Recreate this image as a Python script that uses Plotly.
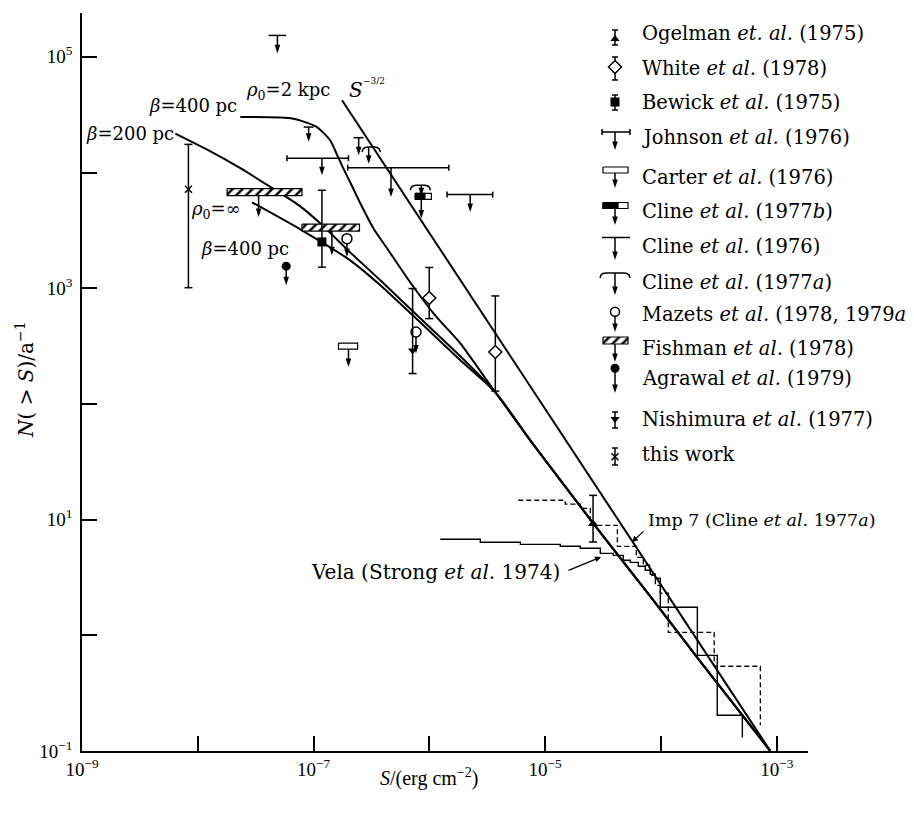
import plotly.graph_objects as go

# ---------------- data (S in erg cm^-2, N(>S) per year) ----------------
# model curves
kpc2_S = [2.33e-8, 6.68e-8, 1.07e-7, 1.39e-7, 1.60e-7, 1.80e-7, 2.07e-7, 2.53e-7, 3.28e-7, 4.42e-7,
          6.84e-7, 1.12e-6, 1.85e-6, 3.36e-6, 7.43e-6, 2.60e-5, 8.09e-5, 2.18e-4, 8.79e-4]
kpc2_N = [3.02e4, 2.92e4, 2.47e4, 1.90e4, 1.41e4, 1.09e4, 8.23e3, 5.42e3, 3.30e3, 2.13e3,
          1.12e3, 583, 334, 145, 48.4, 9.29, 2.17, 0.596, 0.1]
pc200_S = [6.4e-9, 1.23e-8, 2.33e-8, 4.23e-8, 7.67e-8, 1.14e-7, 2.07e-7, 3.77e-7, 8.33e-7, 1.85e-6,
           3.71e-6, 7.43e-6, 2.60e-5, 8.09e-5, 2.18e-4, 8.79e-4]
pc200_N = [2.17e4, 1.56e4, 1.09e4, 7.50e3, 5.10e3, 3.64e3, 2.04e3, 1.17e3, 549, 258,
           126, 48.4, 9.29, 2.17, 0.596, 0.1]
inf_S = [2.94e-8, 7.67e-8, 2.07e-7, 3.77e-7, 8.33e-7, 1.85e-6, 3.71e-6, 7.43e-6, 2.60e-5, 8.09e-5, 2.18e-4, 8.79e-4]
inf_N = [5.52e3, 3.23e3, 1.74e3, 1.06e3, 507, 238, 126, 48.4, 9.29, 2.17, 0.596, 0.1]
euclid_S = [1.76e-7, 8.79e-4]
euclid_N = [4.21e4, 0.1]

# integral distributions (step starts)
vela_S = [1.24e-6, 2.75e-6, 6.10e-6, 1.35e-5, 2.01e-5, 2.99e-5, 3.87e-5, 4.72e-5, 5.43e-5, 6.37e-5,
          7.31e-5, 8.09e-5, 8.93e-5, 9.86e-5, 2.06e-4, 3.06e-4, 5.04e-4]
vela_N = [6.76, 6.37, 6.11, 5.88, 5.65, 5.11, 4.91, 4.45, 4.27, 3.95, 3.65, 3.37, 3.11, 1.75, 0.671, 0.204, 0.131]
imp7_S = [5.86e-6, 1.49e-5, 2.01e-5, 2.45e-5, 4.20e-5, 6.12e-5, 7.03e-5, 8.09e-5, 8.93e-5, 9.86e-5,
          1.156e-4, 2.88e-4, 7.21e-4]
imp7_N = [14.7, 13.6, 12.5, 8.93, 5.88, 4.72, 4.03, 3.30, 2.70, 2.31, 1.06, 0.540, 0.167]

# measurements with error bars
ogelman_S, ogelman_N, ogelman_lo, ogelman_hi = [2.59e-5], [9.23], [6.40], [16.2]
white_S, white_N, white_lo, white_hi = [9.97e-7, 3.71e-6], [822, 281], [546, 129], [1.51e3, 857]
bewick_S, bewick_N, bewick_lo, bewick_hi = [1.18e-7], [2.51e3], [1.52e3], [7.02e3]
nishi_S, nishi_N, nishi_lo, nishi_hi = [7.16e-7], [290], [183], [993]
thiswork_S, thiswork_N, thiswork_lo, thiswork_hi = [8.3e-9], [7.16e3], [1.01e3], [1.75e4]

# upper limits
johnson_S0 = [5.89e-8, 1.97e-7, 1.42e-6]
johnson_S1 = [2.0e-7, 1.47e-6, 3.52e-6]
johnson_S = [1.18e-7, 4.66e-7, 2.25e-6]
johnson_N = [1.33e4, 1.10e4, 6.44e3]
johnson_tip = [9.46e3, 6.14e3, 4.56e3]

cline76_S0 = [4.08e-8, 8.2e-8, 2.21e-7]
cline76_S1 = [5.8e-8, 1.0e-7, 2.70e-7]
cline76_S = [4.87e-8, 9.06e-8, 2.45e-7]
cline76_N = [1.53e5, 2.47e4, 2.0e4]
cline76_tip = [1.07e5, 1.84e4, 1.41e4]

cline77a_S0 = [2.62e-7, 6.84e-7]
cline77a_S1 = [3.77e-7, 1.02e-6]
cline77a_S = [2.99e-7, 8.51e-7]
cline77a_N = [1.66e4, 7.75e3]
cline77a_tip = [1.19e4, 6.23e3]

cline77b_S0, cline77b_S1, cline77b_S = [7.55e-7], [1.04e-6], [8.51e-7]
cline77b_N, cline77b_tip = [6.23e3], [4.0e3]

fishman_S0, fishman_S1, fishman_S = [1.79e-8, 7.94e-8], [7.94e-8, 2.49e-7], [3.35e-8, 1.44e-7]
fishman_N, fishman_tip = [6.78e3, 3.34e3], [4.12e3, 1.92e3]

carter_S0, carter_S1, carter_S = [1.64e-7], [2.40e-7], [2.0e-7]
carter_N, carter_tip = [316], [208]

mazets_S, mazets_N, mazets_tip = [1.94e-7, 7.66e-7], [2.68e3, 418], [1.86e3, 272]
agrawal_S, agrawal_N, agrawal_tip = [5.8e-8], [1.55e3], [1.06e3]

x_tickvals = [1e-9, 1e-8, 1e-7, 1e-6, 1e-5, 1e-4, 1e-3]
x_ticktext = ['10<sup>−9</sup>', '', '10<sup>−7</sup>', '', '10<sup>−5</sup>', '', '10<sup>−3</sup>']
y_tickvals = [1e-1, 1e0, 1e1, 1e2, 1e3, 1e4, 1e5]
y_ticktext = ['10<sup>−1</sup>', '', '10<sup>1</sup>', '', '10<sup>3</sup>', '', '10<sup>5</sup>']

legend_labels = [
    'Ogelman <i>et. al.</i> (1975)', 'White <i>et al.</i> (1978)', 'Bewick <i>et al.</i> (1975)',
    'Johnson <i>et al.</i> (1976)', 'Carter <i>et al.</i> (1976)', 'Cline <i>et al.</i> (1977<i>b</i>)',
    'Cline <i>et al.</i> (1976)', 'Cline <i>et al.</i> (1977<i>a</i>)', 'Mazets <i>et al.</i> (1978, 1979<i>a</i>)',
    'Fishman <i>et al.</i> (1978)', 'Agrawal <i>et al.</i> (1979)', 'Nishimura <i>et al.</i> (1977)', 'this work']

# ---------------- layout geometry (style) ----------------
PAGE_OFF = 8                       # default body margin of the html page
REF_L, REF_R, REF_T, REF_B = 82, 808, 13, 751   # plot-area edges on the page
W, H = 914 - PAGE_OFF, 813 - PAGE_OFF
ML, MT = REF_L - PAGE_OFF, REF_T - PAGE_OFF
MR, MB = W - (REF_R - PAGE_OFF), H - (REF_B - PAGE_OFF)
PW, PH = REF_R - REF_L, REF_B - REF_T
SX, SY = 115.8, 115.7          # pixels per decade
SERIF = 'DejaVu Serif'
SERIF2 = 'Liberation Serif'

fig = go.Figure()


class Space:
    def __init__(self, log, xa, ya):
        self.log, self.xa, self.ya = log, xa, ya

    def ox(self, x, d):
        return x * 10 ** (d / SX) if self.log else x + d

    def oy(self, y, d):  # d > 0 moves down on screen
        return y * 10 ** (-d / SY) if self.log else y + d


DATA = Space(True, 'x', 'y')
LEG = Space(False, 'x2', 'y2')


def lines(sp, xs, ys, width=1.5, dash=None, shape='linear', smoothing=None, **kw):
    ln = dict(color='black', width=width, dash=dash, shape=shape)
    if smoothing is not None:
        ln['smoothing'] = smoothing
    fig.add_trace(go.Scatter(x=xs, y=ys, mode='lines', line=ln,
                             xaxis=sp.xa, yaxis=sp.ya, hoverinfo='skip', showlegend=False, **kw))


def marker(sp, x, y, symbol, size, color='black', lw=0, angle=0):
    fig.add_trace(go.Scatter(x=[x], y=[y], mode='markers',
                             marker=dict(symbol=symbol, size=size, color=color, angle=angle,
                                         line=dict(color='black', width=lw)),
                             xaxis=sp.xa, yaxis=sp.ya, hoverinfo='skip', showlegend=False,
                             cliponaxis=False))


def arrow(sp, x, y0, y1):
    lines(sp, [x, x], [y0, sp.oy(y1, -3)])
    marker(sp, x, y1, 'arrow', 9, angle=180)


def errbar(sp, x, lo, hi, cap=4):
    lines(sp, [x, x, None, sp.ox(x, -cap), sp.ox(x, cap), None, sp.ox(x, -cap), sp.ox(x, cap)],
          [lo, hi, None, lo, lo, None, hi, hi])


def hbar(sp, x0, x1, y, cap=0):
    xs, ys = [x0, x1], [y, y]
    if cap:
        xs += [None, x0, x0, None, x1, x1]
        ys += [None, sp.oy(y, -cap), sp.oy(y, cap), None, sp.oy(y, -cap), sp.oy(y, cap)]
    lines(sp, xs, ys)


def hbar_curved(sp, x0, x1, y):
    xs = [x0, sp.ox(x0, 1), sp.ox(x0, 3), sp.ox(x0, 6), sp.ox(x1, -6), sp.ox(x1, -3), sp.ox(x1, -1), x1]
    ys = [sp.oy(y, 5), sp.oy(y, 2), sp.oy(y, 0.5), y, y, sp.oy(y, 0.5), sp.oy(y, 2), sp.oy(y, 5)]
    lines(sp, xs, ys)


def rect(sp, x0, x1, y, h, pattern=None, split=None):
    yt, yb = sp.oy(y, -h / 2), sp.oy(y, h / 2)
    kw = dict(fill='toself', fillcolor='white')
    if pattern:
        kw['fillpattern'] = dict(shape='/', size=7, solidity=0.35, fgcolor='black',
                                 bgcolor='white', fillmode='replace')
    lines(sp, [x0, x1, x1, x0, x0], [yt, yt, yb, yb, yt], width=1.2, **kw)
    if split:
        xm = x0 * (x1 / x0) ** split if sp.log else x0 + (x1 - x0) * split
        lines(sp, [x0, xm, xm, x0, x0], [yt, yt, yb, yb, yt], width=1.2, fill='toself', fillcolor='black')
    return yb


# ---------------- curves ----------------
lines(DATA, kpc2_S, kpc2_N, width=2, shape='spline', smoothing=0.6)
lines(DATA, pc200_S, pc200_N, width=2, shape='spline', smoothing=0.6)
lines(DATA, inf_S, inf_N, width=2, shape='spline', smoothing=0.6)
lines(DATA, euclid_S, euclid_N, width=2)
lines(DATA, vela_S, vela_N, width=1.4, shape='hv')
lines(DATA, imp7_S, imp7_N, width=1.3, shape='hv', dash='5px,3px')

# ---------------- data glyphs ----------------
for S0, S1, S, N, tip in zip(johnson_S0, johnson_S1, johnson_S, johnson_N, johnson_tip):
    hbar(DATA, S0, S1, N, cap=3)
    arrow(DATA, S, N, tip)
for S0, S1, S, N, tip in zip(cline76_S0, cline76_S1, cline76_S, cline76_N, cline76_tip):
    hbar(DATA, S0, S1, N)
    arrow(DATA, S, N, tip)
for S0, S1, S, N, tip in zip(cline77a_S0, cline77a_S1, cline77a_S, cline77a_N, cline77a_tip):
    hbar_curved(DATA, S0, S1, N)
    arrow(DATA, S, N, tip)
for S0, S1, S, N, tip in zip(cline77b_S0, cline77b_S1, cline77b_S, cline77b_N, cline77b_tip):
    yb = rect(DATA, S0, S1, N, 6, split=0.6)
    arrow(DATA, S, yb, tip)
for S0, S1, S, N, tip in zip(fishman_S0, fishman_S1, fishman_S, fishman_N, fishman_tip):
    yb = rect(DATA, S0, S1, N, 7, pattern=True)
    arrow(DATA, S, yb, tip)
for S0, S1, S, N, tip in zip(carter_S0, carter_S1, carter_S, carter_N, carter_tip):
    yb = rect(DATA, S0, S1, N, 6)
    arrow(DATA, S, yb, tip)
for S, N, tip in zip(mazets_S, mazets_N, mazets_tip):
    arrow(DATA, S, N, tip)
    marker(DATA, S, N, 'circle', 10, color='white', lw=1.5)
for S, N, tip in zip(agrawal_S, agrawal_N, agrawal_tip):
    arrow(DATA, S, N, tip)
    marker(DATA, S, N, 'circle', 9)
for S, N, lo, hi in zip(ogelman_S, ogelman_N, ogelman_lo, ogelman_hi):
    errbar(DATA, S, lo, hi)
    marker(DATA, S, N, 'triangle-up', 9)
for S, N, lo, hi in zip(white_S, white_N, white_lo, white_hi):
    errbar(DATA, S, lo, hi)
    marker(DATA, S, N, 'diamond', 10, color='white', lw=1.5)
for S, N, lo, hi in zip(bewick_S, bewick_N, bewick_lo, bewick_hi):
    errbar(DATA, S, lo, hi)
    marker(DATA, S, N, 'square', 9)
for S, N, lo, hi in zip(nishi_S, nishi_N, nishi_lo, nishi_hi):
    errbar(DATA, S, lo, hi)
    marker(DATA, S, N, 'triangle-down', 8)
for S, N, lo, hi in zip(thiswork_S, thiswork_N, thiswork_lo, thiswork_hi):
    errbar(DATA, S, lo, hi)
    marker(DATA, S, N, 'x-thin-open', 7, lw=1.5)

# ---------------- legend glyphs (page-pixel space) ----------------
lx = 615
errbar(LEG, lx, 30, 45, cap=3); marker(LEG, lx, 39, 'triangle-up', 8)
errbar(LEG, lx, 57, 80, cap=3); marker(LEG, lx, 67, 'diamond', 10, color='white', lw=1.5)
errbar(LEG, lx, 95, 110, cap=3); marker(LEG, lx, 102, 'square', 9)
hbar(LEG, 602, 630, 132, cap=3); arrow(LEG, lx, 132, 150)
yb = rect(LEG, 603, 628, 170, 6); arrow(LEG, lx, yb, 188)
yb = rect(LEG, 603, 628, 205.5, 6, split=0.6); arrow(LEG, lx, yb, 225)
hbar(LEG, 602, 630, 237.5); arrow(LEG, lx, 237.5, 260)
hbar_curved(LEG, 600, 630, 273); arrow(LEG, lx, 273, 295)
arrow(LEG, lx, 312, 332); marker(LEG, lx, 311.7, 'circle', 9, color='white', lw=1.5)
yb = rect(LEG, 603, 628, 340.5, 7, pattern=True); arrow(LEG, lx, yb, 362)
arrow(LEG, lx, 368, 393); marker(LEG, lx, 368.3, 'circle', 9)
errbar(LEG, lx, 412, 428, cap=3); marker(LEG, lx, 419, 'triangle-down', 8)
errbar(LEG, lx, 448, 465, cap=3); marker(LEG, lx, 456.7, 'x-thin-open', 7, lw=1.5)


def P(px, py):
    return (px - REF_L) / PW, (REF_B - py) / PH


annotations = []


def text(txt, px, py, anchor='left', size=18, family=SERIF, angle=0):
    x, y = P(px, py)
    annotations.append(dict(x=x, y=y, xref='paper', yref='paper', text=txt, showarrow=False,
                            xanchor=anchor, yanchor='middle', textangle=angle,
                            font=dict(family=family, size=size, color='black')))


legend_y = [34, 69, 102, 137, 177, 211, 247, 282, 314, 348, 378, 419, 454]
for lab, yy in zip(legend_labels, legend_y):
    text(lab, 640, yy, size=19.5)

text('<i>β</i>=400 pc', 147, 106)
text('<i>ρ</i><sub>0</sub>=2 kpc', 244, 91)
text('<i>S</i>', 347, 90, size=20)
text('−3/2', 361, 81, size=9)
text('<i>β</i>=200 pc', 84, 133)
text('<i>ρ</i><sub>0</sub>=∞', 189, 210)
text('<i>β</i>=400 pc', 199, 248)
text('Vela (Strong <i>et al.</i> 1974)', 562, 572, anchor='right', size=20)
text('Imp 7 (Cline <i>et al.</i> 1977<i>a</i>)', 646, 520, size=17.5)

for tip, tail in [((601, 557), (567, 571)), ((632, 542), (645, 530))]:
    x, y = P(*tip)
    annotations.append(dict(x=x, y=y, xref='paper', yref='paper', text='', showarrow=True,
                            ax=tail[0] - tip[0], ay=tail[1] - tip[1], arrowhead=2, arrowsize=1,
                            arrowwidth=1.2, arrowcolor='black'))

text('<i>N</i>( > <i>S</i>)/a<sup>−1</sup>', 25, 380, anchor='center', size=20, angle=-90)
text('<i>S</i>/(erg cm<sup>−2</sup>)', 429, 777, anchor='center', size=20, family=SERIF2)

axis_common = dict(type='log', showline=True, linecolor='black', linewidth=1.5, ticks='inside',
                   ticklen=15, tickwidth=1.5, tickcolor='black', showgrid=False, zeroline=False,
                   automargin=False, mirror=False,
                   tickfont=dict(family=SERIF2, size=19, color='black'))

fig.update_layout(
    width=W, height=H, margin=dict(l=ML, r=MR, t=MT, b=MB, pad=0),
    paper_bgcolor='white', plot_bgcolor='white', showlegend=False,
    font=dict(family=SERIF, color='black'),
    xaxis=dict(range=[-9, -9 + PW / SX], tickvals=x_tickvals, ticktext=x_ticktext, **axis_common),
    yaxis=dict(range=[-1, -1 + PH / SY], tickvals=y_tickvals, ticktext=y_ticktext,
               ticklabelstandoff=4, **axis_common),
    xaxis2=dict(overlaying='x', range=[REF_L, REF_R], visible=False, automargin=False),
    yaxis2=dict(overlaying='y', range=[REF_B, REF_T], visible=False, automargin=False),
    annotations=annotations,
)

fig.write_html('out.html')
